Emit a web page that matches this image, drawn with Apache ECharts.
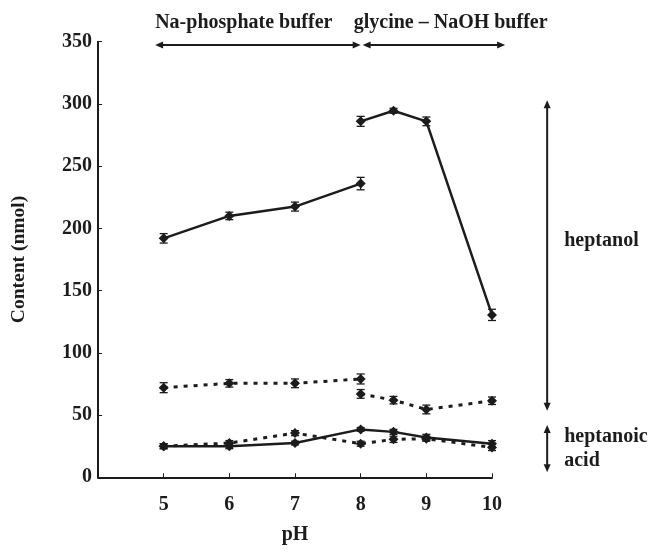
<!DOCTYPE html>
<html>
<head>
<meta charset="utf-8">
<script src="https://cdn.jsdelivr.net/npm/echarts@6/dist/echarts.min.js"></script>
<style>
html,body{margin:0;padding:0;background:#fff;}
#c{width:653px;height:552px;}
</style>
</head>
<body>
<div id="c"></div>
<script>
// ---- data ----
const phPhosphate = [5, 6, 7, 8];
const phGlycine = [8, 8.5, 9, 10];
const phAll = [5, 6, 7, 8, 8.5, 9, 10];

const heptanolSolidPhosphate = [192, 210, 217.5, 236];
const heptanolSolidPhosphateErr = [3.8, 3, 3.6, 5];
const heptanolSolidGlycine = [286, 294.5, 286, 130.5];
const heptanolSolidGlycineErr = [4, 2, 3.5, 4.5];

const heptanolDashPhosphate = [72, 75.5, 75.5, 79];
const heptanolDashPhosphateErr = [4, 3, 3.5, 4];
const heptanolDashGlycine = [67, 62, 54.5, 61.5];
const heptanolDashGlycineErr = [3.5, 3, 3.5, 3];

const acidSolid = [25, 25, 27.5, 38.5, 36.5, 32, 27];
const acidSolidErr = [2, 2, 1.5, 1.5, 2, 2.5, 2.5];
const acidDash = [25, 27.5, 35.5, 27, 30.5, 31, 24];
const acidDashErr = [2, 2, 2, 2, 2.5, 2, 2.5];

const yTicks = [0, 50, 100, 150, 200, 250, 300, 350];
const xTicks = [5, 6, 7, 8, 9, 10];

const bufferLabels = ['Na-phosphate buffer', 'glycine \u2013 NaOH buffer'];
const groupLabels = ['heptanol', 'heptanoic', 'acid'];

// ---- chart ----
const INK = '#1c1c1c';
const FONT = '"Liberation Serif", "Times New Roman", serif';
const zip = (xs, ys) => xs.map((x, i) => [x, ys[i]]);
const zipE = (xs, ys, es) => xs.map((x, i) => [x, ys[i], es[i]]);

function lineSeries(xs, ys, dashed) {
  return {
    type: 'line',
    data: zip(xs, ys),
    symbol: 'diamond',
    symbolSize: 10,
    itemStyle: { color: INK },
    lineStyle: { color: INK, width: dashed ? 3 : 2.5, type: dashed ? [4, 6] : 'solid' },
    z: 3,
    animation: false
  };
}

const errData = [].concat(
  zipE(phPhosphate, heptanolSolidPhosphate, heptanolSolidPhosphateErr),
  zipE(phGlycine, heptanolSolidGlycine, heptanolSolidGlycineErr),
  zipE(phPhosphate, heptanolDashPhosphate, heptanolDashPhosphateErr),
  zipE(phGlycine, heptanolDashGlycine, heptanolDashGlycineErr),
  zipE(phAll, acidSolid, acidSolidErr),
  zipE(phAll, acidDash, acidDashErr)
);

const chart = echarts.init(document.getElementById('c'));
chart.setOption({
  animation: false,
  backgroundColor: '#fff',
  grid: { left: 98, right: 161, top: 41.7, bottom: 74.7, containLabel: false, outerBoundsMode: 'none' },
  xAxis: {
    type: 'value', min: 4, max: 10, interval: 1,
    name: 'pH', nameLocation: 'middle', nameGap: 48,
    nameTextStyle: { fontFamily: FONT, fontWeight: 'bold', fontSize: 20, color: INK },
    axisLine: { lineStyle: { color: INK, width: 2 } },
    axisTick: { inside: true, length: 4, lineStyle: { color: INK, width: 1 } },
    axisLabel: {
      margin: 18, fontFamily: FONT, fontWeight: 'bold', fontSize: 20, color: INK,
      formatter: v => (xTicks.indexOf(v) >= 0 ? String(v) : '')
    },
    splitLine: { show: false }
  },
  yAxis: {
    type: 'value', min: 0, max: 350, interval: 50,
    name: 'Content (nmol)', nameLocation: 'middle', nameGap: 69,
    nameTextStyle: { fontFamily: FONT, fontWeight: 'bold', fontSize: 19.5, color: INK },
    axisLine: { show: true, lineStyle: { color: INK, width: 2 } },
    axisTick: { show: true, inside: true, length: 4, lineStyle: { color: INK, width: 1 } },
    axisLabel: {
      margin: 6, fontFamily: FONT, fontWeight: 'bold', fontSize: 20, color: INK,
      formatter: v => (yTicks.indexOf(v) >= 0 ? String(v) : '')
    },
    splitLine: { show: false }
  },
  series: [
    lineSeries(phPhosphate, heptanolSolidPhosphate, false),
    lineSeries(phGlycine, heptanolSolidGlycine, false),
    lineSeries(phPhosphate, heptanolDashPhosphate, true),
    lineSeries(phGlycine, heptanolDashGlycine, true),
    lineSeries(phAll, acidSolid, false),
    lineSeries(phAll, acidDash, true),
    {
      type: 'custom',
      data: errData,
      encode: { x: 0, y: 1 },
      z: 4,
      renderItem: function (params, api) {
        const x = api.value(0), y = api.value(1), e = api.value(2);
        const top = api.coord([x, y + e]);
        const bot = api.coord([x, y - e]);
        const w = 4;
        const st = { stroke: INK, lineWidth: 1.3 };
        return {
          type: 'group',
          children: [
            { type: 'line', shape: { x1: top[0], y1: top[1], x2: bot[0], y2: bot[1] }, style: st },
            { type: 'line', shape: { x1: top[0] - w, y1: top[1], x2: top[0] + w, y2: top[1] }, style: st },
            { type: 'line', shape: { x1: bot[0] - w, y1: bot[1], x2: bot[0] + w, y2: bot[1] }, style: st }
          ]
        };
      }
    }
  ]
});

// ---- annotations (positioned through the axes) ----
function px(x, y) { return chart.convertToPixel({ gridIndex: 0 }, [x, y]); }
function arrow(p1, p2) {
  const dx = p2[0] - p1[0], dy = p2[1] - p1[1];
  const len = Math.sqrt(dx * dx + dy * dy);
  const ux = dx / len, uy = dy / len, nx = -uy, ny = ux;
  const L = 8, H = 3.5;
  const head = (p, s) => [
    [p[0], p[1]],
    [p[0] + s * ux * L + nx * H, p[1] + s * uy * L + ny * H],
    [p[0] + s * ux * L - nx * H, p[1] + s * uy * L - ny * H]
  ];
  return [
    { type: 'line', shape: { x1: p1[0] + ux * 4, y1: p1[1] + uy * 4, x2: p2[0] - ux * 4, y2: p2[1] - uy * 4 }, style: { stroke: INK, lineWidth: 2 } },
    { type: 'polygon', shape: { points: head(p1, 1) }, style: { fill: INK } },
    { type: 'polygon', shape: { points: head(p2, -1) }, style: { fill: INK } }
  ];
}
function label(text, p, align) {
  return {
    type: 'text', x: p[0], y: p[1],
    style: { text: text, fill: INK, font: 'bold 20px ' + FONT, align: align, verticalAlign: 'middle' }
  };
}

const yTop = 347.3;
const graphics = [].concat(
  arrow(px(4.87, yTop), px(8.0, yTop)),
  arrow(px(8.03, yTop), px(10.2, yTop)),
  arrow(px(10.84, 303), px(10.84, 53.5)),
  arrow(px(10.84, 42), px(10.84, 4)),
  [
    label(bufferLabels[0], px(6.22, 365), 'center'),
    label(bufferLabels[1], px(9.37, 365), 'center'),
    label(groupLabels[0], px(11.1, 190), 'left'),
    label(groupLabels[1], px(11.1, 32.5), 'left'),
    label(groupLabels[2], px(11.1, 13), 'left')
  ]
);
chart.setOption({ graphic: { elements: graphics } });
</script>
</body>
</html>
